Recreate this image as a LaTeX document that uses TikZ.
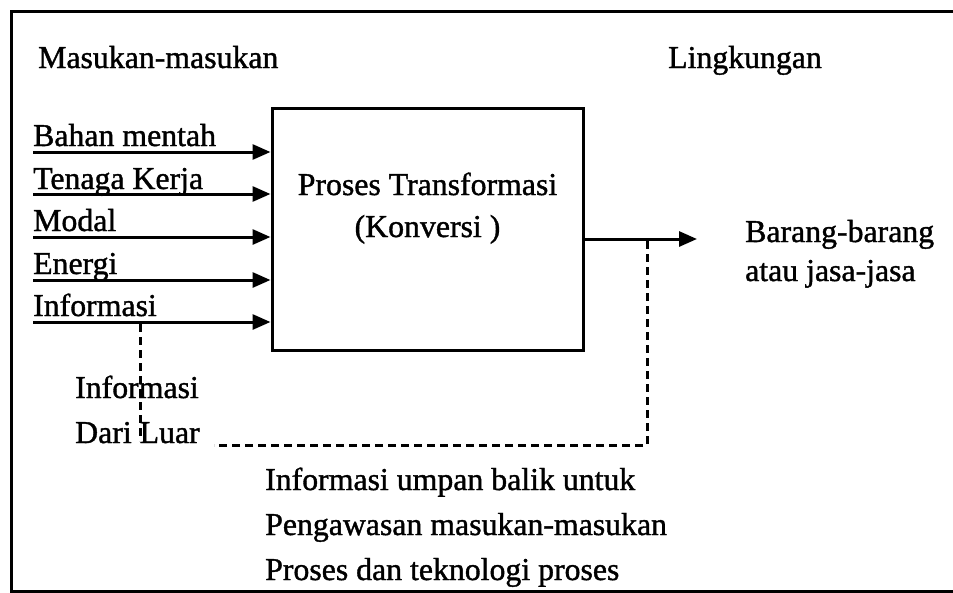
\documentclass[tikz,border=0pt]{standalone}
\usepackage{fontspec}
\setmainfont{Liberation Serif}
\font\heavyfnt="Liberation Serif:embolden=1.2" at 31.8pt
\usetikzlibrary{arrows.meta}
\begin{document}
\begin{tikzpicture}[x=1pt,y=-1pt,
  txt/.style={inner sep=0pt,anchor=base west,font=\heavyfnt},
  thick line/.style={line width=3pt},
  inarrow/.style={line width=3pt,-{Triangle[length=18pt,width=15pt]}},
  fb/.style={line width=3pt,dash pattern=on 8pt off 5pt},
  procbox/.style={draw,line width=3pt,minimum width=311pt,minimum height=242pt,inner sep=0pt}]
\useasboundingbox (0,0) rectangle (953,592);
% outer frame (right side runs off the page)
\draw[thick line] (960,11) -- (11,11) -- (11,591) -- (960,591);
% titles
\node[txt] (masukan) at (38,68) {Masukan-masukan};
\node[txt] (lingk) at (668,68) {Lingkungan};
% process box
\node[procbox] (proc) at (427.5,229) {};
\node[txt,anchor=base] (p1) at (427.5,195) {Proses Transformasi};
\node[txt,anchor=base] (p2) at (427.5,237) {(Konversi )};
% inputs
\node[txt] (l1) at (33,146) {Bahan mentah};
\node[txt] (l2) at (33,189) {Tenaga Kerja};
\node[txt] (l3) at (33,231) {Modal};
\node[txt] (l4) at (33,274) {Energi};
\node[txt] (l5) at (33,316) {Informasi};
\coordinate (i1) at (33,152);
\coordinate (i2) at (33,194);
\coordinate (i3) at (33,237);
\coordinate (i4) at (33,280);
\coordinate (i5) at (33,322);
\foreach \k in {1,...,5}{\draw[inarrow] (i\k) -- (i\k -| proc.west);}
% output
\coordinate (outstart) at (583,239);
\coordinate (outtip) at (697,239);
\draw[inarrow] (outstart -| proc.east) -- (outtip);
\node[txt] (out1) at (745,242) {Barang-barang};
\node[txt] (out2) at (745,281) {atau jasa-jasa};
% external information
\node[txt] (ext1) at (75,398) {Informasi};
\node[txt] (ext2) at (75,443) {Dari Luar};
\coordinate (vtop) at (140,324);
\coordinate (vbot) at (140,441);
\draw[fb] (vtop) -- (vbot);
% feedback loop
\coordinate (fbtop) at (647,241);
\coordinate (fbcorner) at (647,445);
\coordinate (fbend) at (214,445);
\draw[fb] (fbtop) -- (fbcorner) -- (fbend);
% feedback text
\node[txt] (f1) at (265,490) {Informasi umpan balik untuk};
\node[txt] (f2) at (265,535) {Pengawasan masukan-masukan};
\node[txt] (f3) at (265,580) {Proses dan teknologi proses};
\end{tikzpicture}
\end{document}
